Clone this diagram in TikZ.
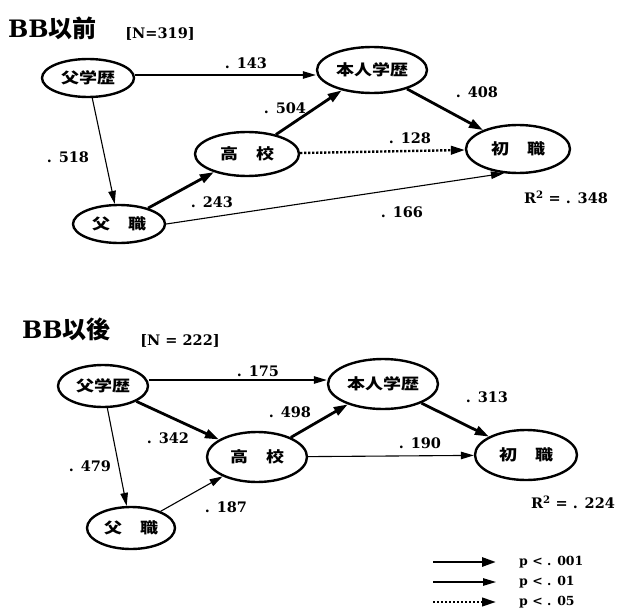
\documentclass[tikz,border=0pt]{standalone}
\usepackage{fontspec}
\usepackage{graphicx}
\setmainfont{DejaVu Serif}
\newfontfamily\cjk{Noto Sans CJK JP}
\usetikzlibrary{shapes.geometric,arrows.meta}
\newcommand{\jp}[1]{\scalebox{1.2}[1]{\cjk\bfseries #1}}
\tikzset{
  var/.style={ellipse,draw,line width=2.4pt,inner sep=0pt,font=\fontsize{15}{15}\selectfont},
  lab/.style={font=\bfseries\fontsize{14.5}{14.5}\selectfont,inner sep=1pt},
  leg/.style={font=\bfseries\fontsize{12.5}{12.5}\selectfont,inner sep=1pt,anchor=west},
  thick arr/.style={line width=2.8pt,-{Triangle[length=14pt,width=9pt]}},
  thin arr/.style={line width=1.1pt,-{Triangle[length=13pt,width=7.5pt]}},
  dot arr/.style={line width=2.4pt,dash pattern=on 2.2pt off 1.8pt,-{Triangle[length=14pt,width=8.5pt]}},
}
\begin{document}
\begin{tikzpicture}[x=1pt,y=-1pt]
\useasboundingbox (0,0) rectangle (618,610);
% ---------- top ----------
\node[anchor=west,inner sep=0pt] (t1) at (8,28) {\fontsize{24}{24}\selectfont\bfseries BB\cjk 以前};
\node[lab] (n1) at (160,34) {[N=319]};
\node[var,minimum width=92pt,minimum height=38pt] (fa1) at (88,78) {\jp{父学歴}};
\node[var,minimum width=110pt,minimum height=46pt] (hon1) at (372,70) {\jp{本人学歴}};
\node[var,minimum width=104pt,minimum height=44pt] (hk1) at (247,154) {\jp{高\quad 校}};
\node[var,minimum width=92pt,minimum height=38pt] (fs1) at (119,224) {\jp{父\quad 職}};
\node[var,minimum width=104pt,minimum height=48pt] (sh1) at (518,149) {\jp{初\quad 職}};
\draw[thin arr] ([yshift=3pt]fa1.east) -- ([yshift=-5pt]hon1.west);
\draw[thin arr] (fa1) -- (fs1);
\draw[thick arr] (fs1) -- (hk1);
\draw[thick arr] (hk1) -- (hon1);
\draw[thick arr] (hon1) -- (sh1);
\draw[dot arr] (hk1) -- (sh1);
\draw[thin arr] (fs1.east) -- (sh1.-120);
\node[lab] (l1) at (246,63) {. 143};
\node[lab] (l2) at (285,108) {. 504};
\node[lab] (l3) at (477,92) {. 408};
\node[lab] (l4) at (410,138) {. 128};
\node[lab] (l5) at (68,157) {. 518};
\node[lab] (l6) at (212,202) {. 243};
\node[lab] (l7) at (402,212) {. 166};
\node[lab] (r1) at (566,197) {R\textsuperscript{2} = . 348};
% ---------- bottom ----------
\node[anchor=west,inner sep=0pt] (t2) at (22,329) {\fontsize{24}{24}\selectfont\bfseries BB\cjk 以後};
\node[lab] (n2) at (180,341) {[N = 222]};
\node[var,minimum width=90pt,minimum height=42pt] (fa2) at (103,386) {\jp{父学歴}};
\node[var,minimum width=100pt,minimum height=50pt] (hk2) at (257,457) {\jp{高\quad 校}};
\node[var,minimum width=88pt,minimum height=42pt] (fs2) at (131,528) {\jp{父\quad 職}};
\node[var,minimum width=110pt,minimum height=50pt] (hon2) at (383,384) {\jp{本人学歴}};
\node[var,minimum width=102pt,minimum height=50pt] (sh2) at (526,455) {\jp{初\quad 職}};
\draw[thin arr] ([yshift=6pt]fa2.east) -- ([yshift=4pt]hon2.west);
\draw[thick arr] (fa2) -- (hk2);
\draw[thin arr] (fa2) -- (fs2);
\draw[thin arr] (fs2) -- (hk2);
\draw[thick arr] (hk2) -- (hon2);
\draw[thick arr] (hon2) -- (sh2);
\draw[thin arr] (hk2) -- (sh2);
\node[lab] (m1) at (258,371) {. 175};
\node[lab] (m2) at (290,412) {. 498};
\node[lab] (m3) at (168,438) {. 342};
\node[lab] (m4) at (90,466) {. 479};
\node[lab] (m5) at (226,507) {. 187};
\node[lab] (m6) at (487,397) {. 313};
\node[lab] (m7) at (420,443) {. 190};
\node[lab] (r2) at (573,502) {R\textsuperscript{2} = . 224};
% ---------- legend ----------
\coordinate (a1) at (433,562); \coordinate (b1) at (496,562);
\coordinate (a2) at (433,582); \coordinate (b2) at (496,582);
\coordinate (a3) at (433,602); \coordinate (b3) at (496,602);
\draw[thick arr] (a1) -- (b1);
\draw[thin arr] (a2) -- (b2);
\draw[dot arr] (a3) -- (b3);
\node[leg] (p1) at (518,562) {p < . 001};
\node[leg] (p2) at (518,582) {p < . 01};
\node[leg] (p3) at (518,602) {p < . 05};
\end{tikzpicture}
\end{document}
